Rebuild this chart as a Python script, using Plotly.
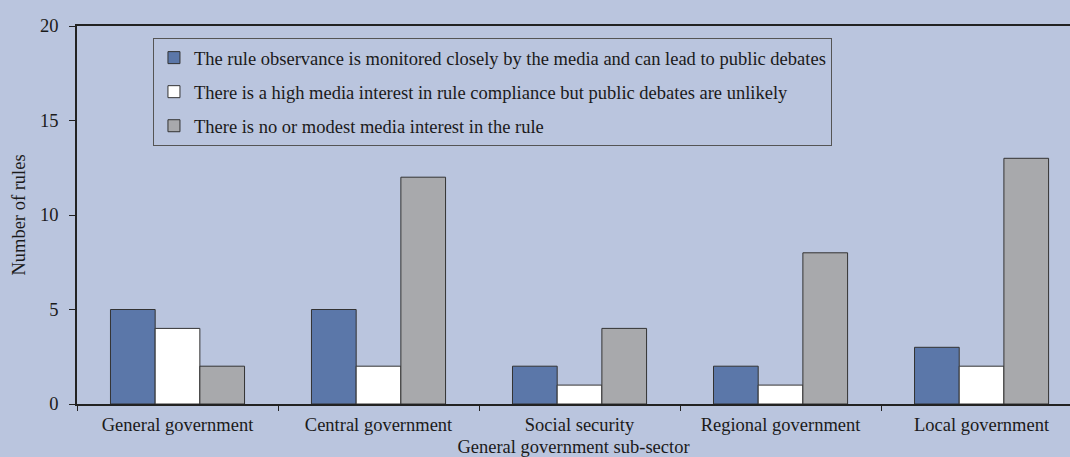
import plotly.graph_objects as go

categories = ["General government", "Central government", "Social security", "Regional government", "Local government"]
series_names = [
    "The rule observance is monitored closely by the media and can lead to public debates",
    "There is a high media interest in rule compliance but public debates are unlikely",
    "There is no or modest media interest in the rule",
]
monitored = [5, 5, 2, 2, 3]
high_interest = [4, 2, 1, 1, 2]
no_interest = [2, 12, 4, 8, 13]
y_ticks = [0, 5, 10, 15, 20]

colors = ["#5b77a9", "#ffffff", "#a8a9ac"]
values = [monitored, high_interest, no_interest]

fig = go.Figure()
for i, (name, vals, col) in enumerate(zip(series_names, values, colors)):
    fig.add_trace(go.Bar(
        x=categories, y=vals, name=name,
        marker=dict(color=col, line=dict(color="#333333", width=1)),
        legendgroup=f"g{i}",
    ))

bg = "#bac5de"
fs = 18.5
fig.update_layout(
    width=1070, height=457,
    margin=dict(l=77, r=0, t=26, b=53),
    paper_bgcolor=bg, plot_bgcolor=bg,
    barmode="group", bargap=0.333, bargroupgap=0,
    font=dict(family="Liberation Serif", size=fs, color="#1a1a1a"),
    legend=dict(
        x=0.0765, y=0.968, xanchor="left", yanchor="top",
        bordercolor="#555555", borderwidth=1, bgcolor=bg,
        font=dict(size=fs), tracegroupgap=7, traceorder="grouped",
    ),
    xaxis=dict(
        range=[-0.5, 4.44], showline=True, linecolor="#222222", linewidth=1.5,
        mirror=True, ticks="outside", ticklen=5, tickcolor="#222222",
        tickson="boundaries", showgrid=False, ticklabelstandoff=3,
        title=dict(text="General government sub-sector", font=dict(size=fs), standoff=6),
        tickfont=dict(size=fs),
    ),
    yaxis=dict(
        range=[0, 20], tickvals=y_ticks, showline=True, linecolor="#222222", linewidth=1.5,
        ticks="outside", ticklen=6, tickcolor="#222222", showgrid=False, zeroline=False,
        ticklabelstandoff=7,
        title=dict(text="Number of rules", font=dict(size=fs), standoff=10),
        tickfont=dict(size=fs),
    ),
)

fig.write_html("out.html", config={"displayModeBar": False},
               post_script="document.body.style.margin='0';document.body.style.padding='0';")
